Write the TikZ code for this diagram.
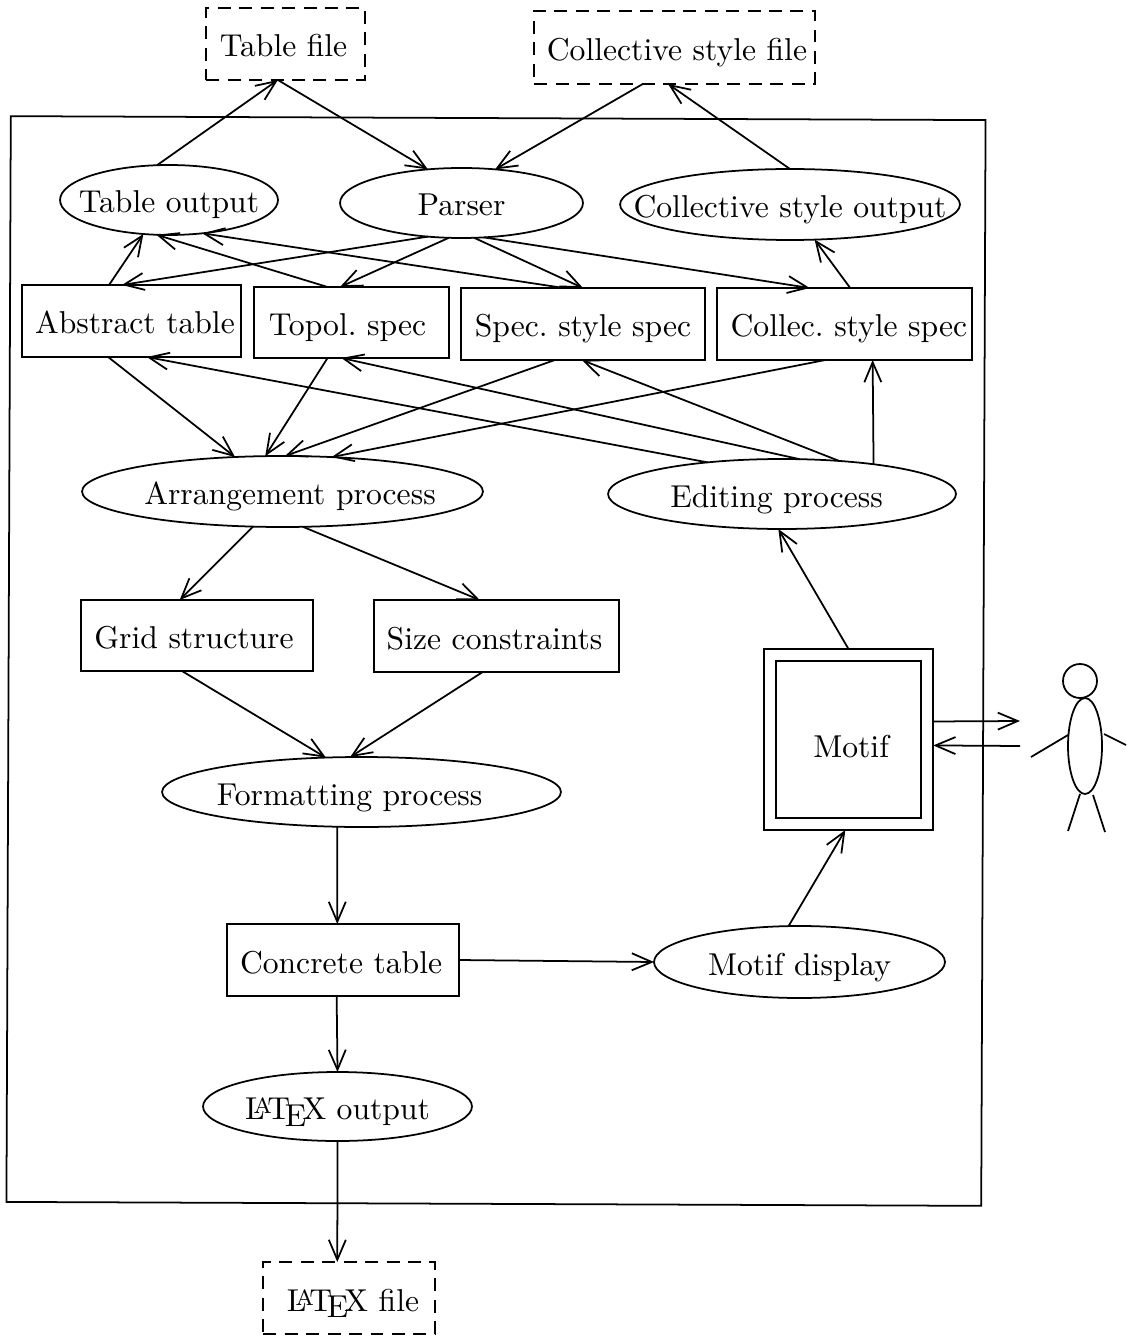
\documentclass[tikz,border=0pt]{standalone}
\usepackage{xcolor}
\usetikzlibrary{shapes.geometric,arrows.meta}
% label at 10pt design size, enlarged; optional argument moves it sideways
\newcommand{\lbl}[2][0pt]{\makebox[0pt]{\hspace*{#1}\raisebox{-7.4pt}[0pt][0pt]{\scalebox{1.8}{#2}}}}

\begin{document}
\begin{tikzpicture}[x=0.02cm, y=-0.02cm, font=\fontsize{10}{12}\selectfont, line width=1pt]
	% Define styles
	\tikzstyle{every node}=[inner sep=0pt, outer sep=0pt]
	\tikzstyle{rectbox} = [rectangle, draw, text centered]
	\tikzstyle{filebox} = [rectangle, draw, text centered, dash pattern=on 0.26cm off 0.17cm]
	\tikzstyle{process} = [ellipse, draw, text centered]
	\tikzstyle{arrow} = [-{Straight Barb[length=0.4cm,width=0.34cm]}]

	\useasboundingbox (0,0) rectangle (1126,1337);

	% System boundary
	\node[rectangle, draw, rotate=-0.23, minimum width=19.5cm, minimum height=21.72cm] (system) at (496,661) {};

	% Files
	\node[filebox, minimum width=3.18cm, minimum height=1.44cm] (tablefile) at (285.5,44) {\lbl[-2.2pt]{Table file}};
	\node[filebox, minimum width=5.62cm, minimum height=1.46cm] (collfile) at (674.5,47.5) {\lbl[2.8pt]{Collective style file}};
	\node[filebox, minimum width=3.44cm, minimum height=1.44cm] (latexfile) at (349,1298) {\lbl[4.6pt]{\LaTeX\ file}};

	% Processes
	\node[process, minimum width=4.36cm, minimum height=1.4cm] (tableoutput) at (169,200) {\lbl{Table output}};
	\node[process, minimum width=4.86cm, minimum height=1.4cm] (parser) at (461.5,203) {\lbl{Parser}};
	\node[process, minimum width=6.8cm, minimum height=1.42cm] (colloutput) at (790,204.5) {\lbl{Collective style output}};
	\node[process, minimum width=8.02cm, minimum height=1.42cm] (arrangement) at (282.5,491.5) {\lbl[8.6pt]{Arrangement process}};
	\node[process, minimum width=6.96cm, minimum height=1.4cm] (editing) at (782,494) {\lbl[-6.2pt]{Editing process}};
	\node[process, minimum width=7.98cm, minimum height=1.4cm] (formatting) at (361.5,792) {\lbl[-13.6pt]{Formatting process}};
	\node[process, minimum width=5.82cm, minimum height=1.44cm] (motifdisplay) at (799.5,962) {\lbl{Motif display}};
	\node[process, minimum width=5.38cm, minimum height=1.38cm] (latexoutput) at (337.5,1106.5) {\lbl{\LaTeX\ output}};

	% Data
	\node[rectbox, minimum width=4.38cm, minimum height=1.44cm] (abstract) at (131.5,321) {\lbl[4pt]{Abstract table}};
	\node[rectbox, minimum width=3.9cm, minimum height=1.42cm] (topol) at (351.5,322.5) {\lbl[-4.6pt]{Topol.\ spec}};
	\node[rectbox, minimum width=4.88cm, minimum height=1.44cm] (specstyle) at (583,324) {\lbl{Spec.\ style spec}};
	\node[rectbox, minimum width=5.1cm, minimum height=1.44cm] (collstyle) at (844.5,324) {\lbl[5pt]{Collec.\ style spec}};
	\node[rectbox, minimum width=4.64cm, minimum height=1.42cm] (grid) at (197,635.5) {\lbl[-3.4pt]{Grid structure}};
	\node[rectbox, minimum width=4.9cm, minimum height=1.44cm] (size) at (496.5,636) {\lbl[-2.2pt]{Size constraints}};
	\node[rectbox, minimum width=4.64cm, minimum height=1.44cm] (concrete) at (343,960) {\lbl[-2.2pt]{Concrete table}};
	\node[rectbox, double, double distance=0.2cm, outer sep=0.12cm, minimum width=3.15cm, minimum height=3.38cm] (motif) at (848.5,739.5) {\raisebox{-5.6pt}{\lbl[3pt]{Motif}}};

	% User
	\node[circle, draw, minimum size=0.68cm] (head) at (1080,681) {};
	\node[ellipse, draw, minimum width=0.68cm, minimum height=1.92cm] (body) at (1085,746) {};
	\draw (1031,757) -- (1068,735);
	\draw (1104,734) -- (1126,745);
	\draw (1080,794) -- (1068,831);
	\draw (1093,795) -- (1105,832);
	\coordinate (userin) at (1020,721);
	\coordinate (userout) at (1020,746);

	% Arrows
	\draw[arrow] (tableoutput.109) -- (tablefile.258);
	\draw[arrow] (tablefile.258) -- (parser.135);
	\draw[arrow] (collfile.229) -- (parser.45);
	\draw[arrow] (colloutput.north) -- (collfile.260);
	\draw[arrow] (parser.225) -- (abstract.105);
	\draw[arrow] (parser.250) -- (topol.108);
	\draw[arrow] (parser.290) -- (specstyle.north);
	\draw[arrow] (parser.303) -- (collstyle.134);
	\draw[arrow] (topol.124) -- (tableoutput.250);
	\draw[arrow] (specstyle.118) -- (tableoutput.315);
	\draw[arrow] (abstract.122) -- (tableoutput.233);
	\draw[arrow] (collstyle.81) -- (colloutput.305);
	\draw[arrow] (abstract.237) -- (arrangement.144);
	\draw[arrow] (topol.236) -- (arrangement.116);
	\draw[arrow] (specstyle.232) -- (arrangement.86);
	\draw[arrow] (collstyle.242) -- (arrangement.35);
	\draw[arrow] (editing.157) -- (abstract.293);
	\draw[arrow] (editing.63) -- (topol.254);
	\draw[arrow] (editing.30) -- (specstyle.268);
	\draw[arrow] (editing.18.2) -- (collstyle.308.4);
	\draw[arrow] (arrangement.230) -- (grid.116);
	\draw[arrow] (arrangement.300) -- (size.115);
	\draw[arrow] (grid.247) -- (formatting.136);
	\draw[arrow] (size.249) -- (formatting.108);
	\draw[arrow] (formatting.235) -- (concrete.99.5);
	\draw[arrow] (concrete.east) -- (motifdisplay.west);
	\draw[arrow] (concrete.260.5) -- (latexoutput.north);
	\draw[arrow] (latexoutput.south) -- (latexfile.108);
	\draw[arrow] (motifdisplay.107.7) -- (motif.268.4);
	\draw[arrow] (motif.north) -- (editing.264);
	\draw[arrow] (motif.12.3) -- (userin);
	\draw[arrow] (userout) -- (motif.356.3);
\end{tikzpicture}
\end{document}
